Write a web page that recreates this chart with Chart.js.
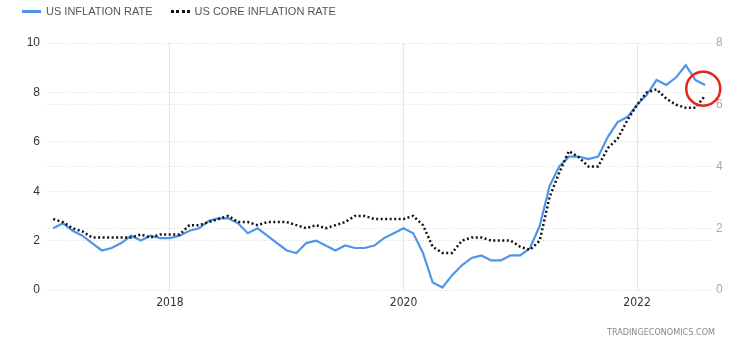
<!DOCTYPE html>
<html>
<head>
<meta charset="utf-8">
<script src="https://cdn.jsdelivr.net/npm/chart.js@4"></script>
<style>
  html, body { margin:0; padding:0; background:#fff; }
  #wrap { position:relative; width:750px; height:348px; }
  #legend { position:absolute; left:22px; top:5px; font:11px "Liberation Sans", Arial, sans-serif; color:#555; display:flex; align-items:center; }
  .sw { display:inline-block; width:19px; margin-right:5px; }
  .item { display:flex; align-items:center; margin-right:18px; }
  #footer { position:absolute; right:35px; top:327px; font:9px "DejaVu Sans Condensed", "DejaVu Sans", sans-serif; font-stretch:condensed; color:#888; }
</style>
</head>
<body>
<div id="wrap">
  <canvas id="chart" width="750" height="348"></canvas>
  <div id="legend">
    <span class="item"><span class="sw" style="border-top:3px solid #4f95eb"></span>US INFLATION RATE</span>
    <span class="item"><span class="sw" style="border-top:3px dotted #111"></span>US CORE INFLATION RATE</span>
  </div>
  <div id="footer">TRADINGECONOMICS.COM</div>
</div>
<script>
// ── Data (monthly, Jan 2017 – Aug 2022) ─────────────────────
const startYear = 2017;
const inflation = [
  2.5, 2.7, 2.4, 2.2, 1.9, 1.6, 1.7, 1.9, 2.2, 2.0, 2.2, 2.1,   // 2017
  2.1, 2.2, 2.4, 2.5, 2.8, 2.9, 2.9, 2.7, 2.3, 2.5, 2.2, 1.9,   // 2018
  1.6, 1.5, 1.9, 2.0, 1.8, 1.6, 1.8, 1.7, 1.7, 1.8, 2.1, 2.3,   // 2019
  2.5, 2.3, 1.5, 0.3, 0.1, 0.6, 1.0, 1.3, 1.4, 1.2, 1.2, 1.4,   // 2020
  1.4, 1.7, 2.6, 4.2, 5.0, 5.4, 5.4, 5.3, 5.4, 6.2, 6.8, 7.0,   // 2021
  7.5, 7.9, 8.5, 8.3, 8.6, 9.1, 8.5, 8.3                        // 2022
];
const coreInflation = [
  2.3, 2.2, 2.0, 1.9, 1.7, 1.7, 1.7, 1.7, 1.7, 1.8, 1.7, 1.8,
  1.8, 1.8, 2.1, 2.1, 2.2, 2.3, 2.4, 2.2, 2.2, 2.1, 2.2, 2.2,
  2.2, 2.1, 2.0, 2.1, 2.0, 2.1, 2.2, 2.4, 2.4, 2.3, 2.3, 2.3,
  2.3, 2.4, 2.1, 1.4, 1.2, 1.2, 1.6, 1.7, 1.7, 1.6, 1.6, 1.6,
  1.4, 1.3, 1.6, 3.0, 3.8, 4.5, 4.3, 4.0, 4.0, 4.6, 4.9, 5.5,
  6.0, 6.4, 6.5, 6.2, 6.0, 5.9, 5.9, 6.3
];
const yearTicks = [2018, 2020, 2022];
const leftTicks = [0, 2, 4, 6, 8, 10];
const rightTicks = [0, 2, 4, 6, 8];
const highlight = { x: 66.8, y: 8.15 };   // red circle annotation (month index, left-axis value)

const monthIndex = y => (y - startYear) * 12;
const toPoints = arr => arr.map((v, i) => ({ x: i, y: v }));

// ── Red circle plugin ───────────────────────────────────────
const circlePlugin = {
  id: 'circle',
  afterDatasetsDraw(chart) {
    const { ctx, scales } = chart;
    const cx = scales.x.getPixelForValue(highlight.x);
    const cy = scales.y.getPixelForValue(highlight.y);
    ctx.save();
    ctx.beginPath();
    ctx.arc(cx, cy, 17, 0, Math.PI * 2);
    ctx.strokeStyle = '#e8231d';
    ctx.lineWidth = 2.5;
    ctx.stroke();
    ctx.restore();
  }
};

new Chart(document.getElementById('chart'), {
  type: 'line',
  data: {
    datasets: [
      { label: 'US INFLATION RATE', data: toPoints(inflation), yAxisID: 'y',
        borderColor: '#4f95eb', borderWidth: 2.2, pointRadius: 0, tension: 0, order: 2 },
      { label: 'US CORE INFLATION RATE', data: toPoints(coreInflation), yAxisID: 'y1',
        borderColor: '#111', borderWidth: 2.5, borderDash: [2, 2.5], pointRadius: 0, tension: 0, order: 1 }
    ]
  },
  options: {
    responsive: false,
    animation: false,
    layout: { padding: { top: 43, left: 0, right: 0, bottom: 0 } },
    plugins: { legend: { display: false }, tooltip: { enabled: false } },
    scales: {
      x: {
        type: 'linear', min: -0.84, max: 67.7,
        afterBuildTicks: ax => { ax.ticks = yearTicks.map(y => ({ value: monthIndex(y) })); },
        afterFit: ax => { ax.height = 58; },
        ticks: { callback: v => String(startYear + v / 12), color: '#333', padding: 6,
                 font: { family: '"DejaVu Sans Condensed", "DejaVu Sans", sans-serif', size: 12 }, maxRotation: 0 },
        grid: { color: '#e6e6e6', drawTicks: false },
        border: { display: false }
      },
      y: {
        position: 'left', min: 0, max: 10,
        afterBuildTicks: ax => { ax.ticks = leftTicks.map(v => ({ value: v })); },
        afterFit: ax => { ax.width = 45; },
        ticks: { color: '#333', padding: 5, font: { family: 'Liberation Sans', size: 12 } },
        grid: { color: '#d8d8d8', drawTicks: false, lineWidth: 1 },
        border: { display: false, dash: [1, 2] }
      },
      y1: {
        position: 'right', min: 0, max: 8,
        afterBuildTicks: ax => { ax.ticks = rightTicks.map(v => ({ value: v })); },
        afterFit: ax => { ax.width = 38; },
        ticks: { color: '#aaa', padding: 4, font: { family: 'Liberation Sans', size: 12 } },
        grid: { color: '#d8d8d8', drawTicks: false, lineWidth: 1 },
        border: { display: false, dash: [1, 2] }
      }
    }
  },
  plugins: [circlePlugin]
});
</script>
</body>
</html>
